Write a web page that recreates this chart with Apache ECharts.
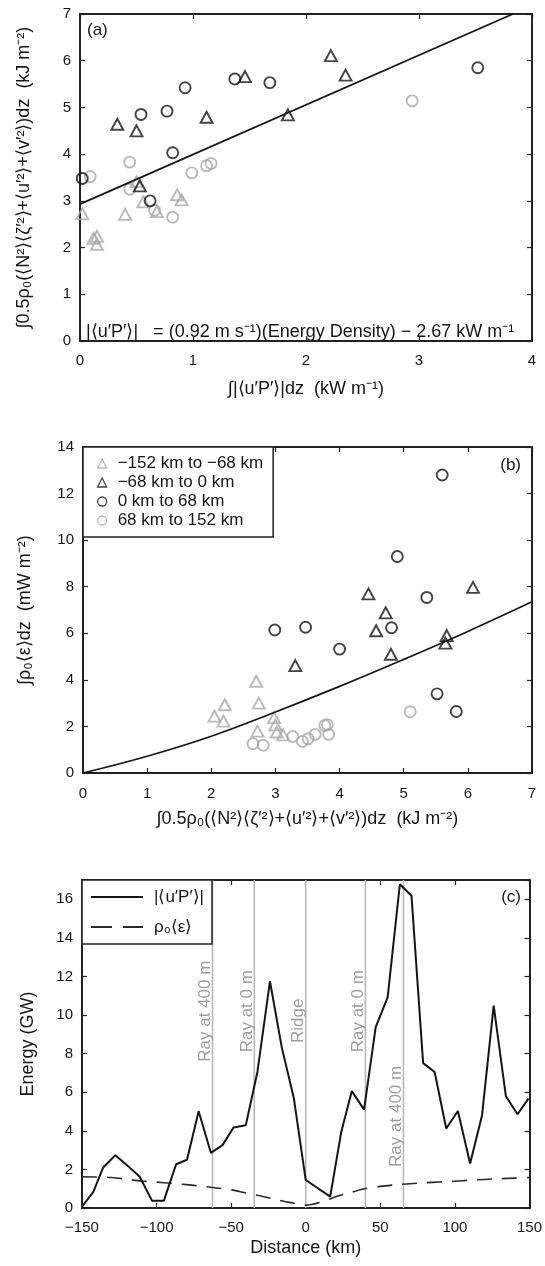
<!DOCTYPE html>
<html>
<head>
<meta charset="utf-8">
<script src="https://cdn.jsdelivr.net/npm/echarts@6/dist/echarts.min.js"></script>
<style>html,body{margin:0;padding:0;background:#fff}#c{width:545px;height:1266px}</style>
</head>
<body>
<div id="c"></div>
<script>
// ---------- Panel (a): flux vs energy density ----------
const aGrayTri   = [[0.02,2.72],[0.40,2.71],[0.12,2.20],[0.15,2.24],[0.15,2.07],[0.50,3.41],[0.56,2.98],[0.86,3.13],[0.90,3.02],[0.68,2.77]];
const aBlackTri  = [[0.33,4.64],[0.50,4.50],[1.12,4.79],[1.46,5.66],[1.84,4.84],[2.22,6.11],[2.35,5.69],[0.53,3.32]];
const aBlackCirc = [[0.02,3.48],[0.54,4.85],[0.77,4.92],[0.93,5.42],[1.37,5.61],[1.68,5.53],[3.52,5.85],[0.82,4.03],[0.62,3.00]];
const aGrayCirc  = [[0.09,3.52],[0.44,3.83],[0.44,3.25],[0.99,3.60],[1.12,3.75],[1.16,3.80],[0.66,2.80],[0.82,2.65],[2.94,5.14]];
const aFitX = [0, 3.83];
const aFitY = [2.93, 7.0];

// ---------- Panel (b): dissipation vs energy density ----------
const bGrayTri   = [[2.05,2.44],[2.19,2.23],[2.21,2.93],[2.70,3.94],[2.72,1.80],[2.74,3.00],[2.98,2.38],[3.00,2.07],[3.02,1.76],[3.12,1.64]];
const bBlackTri  = [[3.31,4.61],[4.45,7.69],[4.72,6.88],[4.57,6.11],[4.80,5.10],[6.08,7.97],[5.67,5.90],[5.65,5.58]];
const bBlackCirc = [[5.60,12.8],[4.90,9.30],[5.36,7.54],[4.81,6.24],[2.99,6.14],[3.47,6.26],[4.00,5.32],[5.52,3.40],[5.82,2.64]];
const bGrayCirc  = [[2.65,1.26],[2.81,1.19],[3.27,1.57],[3.42,1.36],[3.51,1.47],[3.62,1.66],[3.77,2.04],[3.81,2.07],[3.83,1.66],[5.10,2.63]];
const bCurveX = [0, 1, 2, 3, 4, 5, 6, 7];
const bCurveY = [0, 0.72, 1.58, 2.62, 3.72, 4.88, 6.08, 7.35];

// ---------- Panel (c): energy vs distance ----------
const cDist = [-150,-142.4,-135.8,-127.6,-119.1,-111.3,-103.1,-95.1,-86.9,-79.6,-71.8,-63.6,-55.8,-48.4,-40.2,-32.4,-24.0,-16.0,-8.0,0,16.4,23.8,30.9,39.1,46.9,54.9,63.1,70.9,78.7,86.4,94.2,102.0,110.2,118.2,126.0,134.2,142.0,149.3];
const cFlux = [0.07,0.84,2.10,2.74,2.17,1.62,0.38,0.38,2.27,2.50,5.01,2.86,3.26,4.17,4.29,7.05,11.75,8.3,5.7,1.45,0.59,3.94,6.06,5.10,9.37,10.92,16.78,16.18,7.51,7.05,4.12,5.03,2.31,4.81,10.49,5.79,4.86,5.67];
const cDistE = [-150,-140,-130,-120,-110,-100,-90,-80,-70,-60,-50,-40,-30,-20,-10,0,10,20,30,40,50,60,70,80,90,100,110,120,130,140,150];
const cDiss  = [1.62,1.61,1.58,1.49,1.40,1.34,1.28,1.21,1.13,1.04,0.94,0.78,0.62,0.44,0.28,0.15,0.30,0.58,0.80,1.01,1.12,1.20,1.26,1.31,1.35,1.39,1.44,1.48,1.52,1.55,1.58];
const rayX = [-62.5, -34.5, 0, 40, 65.5];
const rayLabelY = [10.2, 10.2, 9.7, 10.2, 4.75];
const rayLabels = ['Ray at 400 m', 'Ray at 0 m', 'Ridge', 'Ray at 0 m', 'Ray at 400 m'];

const legendNames = ['\u2212152 km to \u221268 km', '\u221268 km to 0 km', '0 km to 68 km', '68 km to 152 km'];
const fluxName = '|\u27E8u\u2032P\u2032\u27E9|';
const dissName = '\u03C1\u2080\u27E8\u03B5\u27E9';

const FONT = '"Liberation Sans", Arial, Helvetica, sans-serif';
const INK = '#151515';
const GRAY = '#a9a9a9';
const pairs = (xs, ys) => xs.map((x, i) => [x, ys[i]]);
const minusFmt = v => String(v).replace('-', '\u2212');

function xMain(g, min, max, interval, name, nameGap, margin) {
  return { type:'value', gridIndex:g, position:'bottom', min, max, interval,
    name, nameLocation:'middle', nameGap,
    nameTextStyle:{ fontSize:18, color:INK, fontFamily:FONT },
    axisLine:{ show:true, onZero:false, lineStyle:{ color:'#222', width:2 } },
    axisTick:{ show:true, inside:true, length:5, lineStyle:{ color:'#222', width:1.2 } },
    axisLabel:{ fontSize:15, color:INK, fontFamily:FONT, margin, formatter:minusFmt },
    splitLine:{ show:false } };
}
function xMirror(g, min, max, interval) {
  return { type:'value', gridIndex:g, position:'top', min, max, interval,
    axisLine:{ show:true, onZero:false, lineStyle:{ color:'#222', width:2 } },
    axisTick:{ show:true, inside:true, length:5, lineStyle:{ color:'#222', width:1.2 } },
    axisLabel:{ show:false }, splitLine:{ show:false } };
}
function yMain(g, min, max, interval, name, nameGap, fmt) {
  return { type:'value', gridIndex:g, position:'left', min, max, interval,
    name, nameLocation:'middle', nameGap, nameRotate:90,
    nameTextStyle:{ fontSize:18, color:INK, fontFamily:FONT },
    axisLine:{ show:true, onZero:false, lineStyle:{ color:'#222', width:2 } },
    axisTick:{ show:true, inside:true, length:5, lineStyle:{ color:'#222', width:1.2 } },
    axisLabel:{ fontSize:15, color:INK, fontFamily:FONT, margin:9, formatter: fmt || minusFmt },
    splitLine:{ show:false } };
}
function yMirror(g, min, max, interval) {
  return { type:'value', gridIndex:g, position:'right', min, max, interval,
    axisLine:{ show:true, onZero:false, lineStyle:{ color:'#222', width:2 } },
    axisTick:{ show:true, inside:true, length:5, lineStyle:{ color:'#222', width:1.2 } },
    axisLabel:{ show:false }, splitLine:{ show:false } };
}
function scatter(name, data, xi, yi, shape, color) {
  return { type:'scatter', name, data, xAxisIndex:xi, yAxisIndex:yi,
    symbol:shape, symbolSize: shape === 'triangle' ? [12, 11] : 11,
    itemStyle:{ color:'transparent', borderColor:color, borderWidth:1.9 },
    emphasis:{ disabled:true }, z:3 };
}

const chart = echarts.init(document.getElementById('c'), null, { renderer:'canvas' });
const option = {
  animation:false,
  backgroundColor:'#fff',
  textStyle:{ fontFamily:FONT },
  grid:[
    { left:80, top:14, width:452, height:327 },
    { left:83, top:447, width:449, height:326 },
    { left:82, top:880, width:450, height:328 }
  ],
  xAxis:[
    xMain(0, 0, 4, 1, '\u222B|\u27E8u\u2032P\u2032\u27E9|dz  (kW m\u207B\u00B9)', 39, 12),
    xMirror(0, 0, 4, 1),
    xMain(1, 0, 7, 1, '\u222B0.5\u03C1\u2080(\u27E8N\u00B2\u27E9\u27E8\u03B6\u2032\u00B2\u27E9+\u27E8u\u2032\u00B2\u27E9+\u27E8v\u2032\u00B2\u27E9)dz  (kJ m\u207B\u00B2)', 37, 13),
    xMirror(1, 0, 7, 1),
    xMain(2, -150, 150, 50, 'Distance (km)', 31, 12),
    xMirror(2, -150, 150, 50)
  ],
  yAxis:[
    yMain(0, 0, 7, 1, '\u222B0.5\u03C1\u2080(\u27E8N\u00B2\u27E9\u27E8\u03B6\u2032\u00B2\u27E9+\u27E8u\u2032\u00B2\u27E9+\u27E8v\u2032\u00B2\u27E9)dz  (kJ m\u207B\u00B2)', 47),
    yMirror(0, 0, 7, 1),
    yMain(1, 0, 14, 2, '\u222B\u03C1\u2080\u27E8\u03B5\u27E9dz  (mW m\u207B\u00B2)', 49),
    yMirror(1, 0, 14, 2),
    yMain(2, 0, 17, 2, 'Energy (GW)', 45, v => v > 16 ? '' : minusFmt(v)),
    yMirror(2, 0, 17, 2)
  ],
  legend:[
    { left:83, top:447, orient:'vertical', selectedMode:false,
      itemWidth:9, itemHeight:9, itemGap:0, padding:[7, 10, 7, 14],
      borderColor:'#222', borderWidth:1.5, backgroundColor:'#fff',
      textStyle:{ fontSize:17, color:INK, fontFamily:FONT, lineHeight:19, padding:[0,0,0,6] },
      data:[
        { name:legendNames[0], icon:'triangle', itemStyle:{ color:'transparent', borderColor:GRAY, borderWidth:1.3 } },
        { name:legendNames[1], icon:'triangle', itemStyle:{ color:'transparent', borderColor:INK, borderWidth:1.3 } },
        { name:legendNames[2], icon:'circle', itemStyle:{ color:'transparent', borderColor:INK, borderWidth:1.3 } },
        { name:legendNames[3], icon:'circle', itemStyle:{ color:'transparent', borderColor:GRAY, borderWidth:1.3 } }
      ] },
    { left:82, top:880, orient:'vertical', selectedMode:false,
      itemWidth:52, itemHeight:14, itemGap:6, padding:[5, 8, 5, 8],
      borderColor:'#222', borderWidth:1.5, backgroundColor:'#fff',
      textStyle:{ fontSize:17, color:INK, fontFamily:FONT, lineHeight:24, padding:[0,0,0,6] },
      data:[
        { name:fluxName, itemStyle:{ opacity:0 }, lineStyle:{ color:INK, width:2, type:'solid' } },
        { name:dissName, itemStyle:{ opacity:0 }, lineStyle:{ color:'#2a2a2a', width:1.8, type:[21, 11] } }
      ] }
  ],
  graphic:[
    { type:'text', x:87, y:30, style:{ text:'(a)', font:'17px ' + FONT, fill:INK, verticalAlign:'middle' } },
    { type:'text', x:521, y:465, style:{ text:'(b)', font:'17px ' + FONT, fill:INK, align:'right', verticalAlign:'middle' } },
    { type:'text', x:521, y:897, style:{ text:'(c)', font:'17px ' + FONT, fill:INK, align:'right', verticalAlign:'middle' } },
    { type:'text', x:86, y:332, style:{ text:'|\u27E8u\u2032P\u2032\u27E9|   = (0.92 m s\u207B\u00B9)(Energy Density) \u2212 2.67 kW m\u207B\u00B9', font:'18px ' + FONT, fill:INK, verticalAlign:'middle' } }
  ],
  series:[
    scatter(legendNames[0], aGrayTri, 0, 0, 'triangle', GRAY),
    scatter(legendNames[3], aGrayCirc, 0, 0, 'circle', GRAY),
    scatter(legendNames[1], aBlackTri, 0, 0, 'triangle', INK),
    scatter(legendNames[2], aBlackCirc, 0, 0, 'circle', INK),
    { type:'line', name:'fitA', data:pairs(aFitX, aFitY), xAxisIndex:0, yAxisIndex:0,
      symbol:'none', lineStyle:{ color:INK, width:1.7 }, z:4, emphasis:{ disabled:true } },

    scatter(legendNames[0], bGrayTri, 2, 2, 'triangle', GRAY),
    scatter(legendNames[3], bGrayCirc, 2, 2, 'circle', GRAY),
    scatter(legendNames[1], bBlackTri, 2, 2, 'triangle', INK),
    scatter(legendNames[2], bBlackCirc, 2, 2, 'circle', INK),
    { type:'line', name:'fitB', data:pairs(bCurveX, bCurveY), xAxisIndex:2, yAxisIndex:2,
      symbol:'none', smooth:0.4, lineStyle:{ color:INK, width:1.7 }, z:4, emphasis:{ disabled:true } },

    { type:'custom', name:'rays', xAxisIndex:4, yAxisIndex:4, z:1,
      data: rayX.map((x, i) => [x, rayLabelY[i]]),
      renderItem:(params, api) => {
        const x = api.value(0);
        const top = api.coord([x, 17]);
        const bot = api.coord([x, 0]);
        const lab = api.coord([x, api.value(1)]);
        return { type:'group', children:[
          { type:'line', shape:{ x1:top[0], y1:top[1], x2:bot[0], y2:bot[1] },
            style:{ stroke:'#b8b8b8', lineWidth:1.6 } },
          { type:'text', x:lab[0] - 7, y:lab[1], rotation:Math.PI / 2,
            style:{ text:rayLabels[params.dataIndex], font:'17px ' + FONT, fill:'#9c9c9c',
                    align:'center', verticalAlign:'middle' } }
        ] };
      } },
    { type:'line', name:dissName, data:pairs(cDistE, cDiss), xAxisIndex:4, yAxisIndex:4,
      symbol:'none', smooth:0.3, color:'#2a2a2a', lineStyle:{ color:'#2a2a2a', width:1.6, type:[15, 10] }, z:3, emphasis:{ disabled:true } },
    { type:'line', name:fluxName, data:pairs(cDist, cFlux), xAxisIndex:4, yAxisIndex:4,
      symbol:'none', color:INK, lineStyle:{ color:INK, width:2 }, z:4, emphasis:{ disabled:true } }
  ]
};
chart.setOption(option);
</script>
</body>
</html>
